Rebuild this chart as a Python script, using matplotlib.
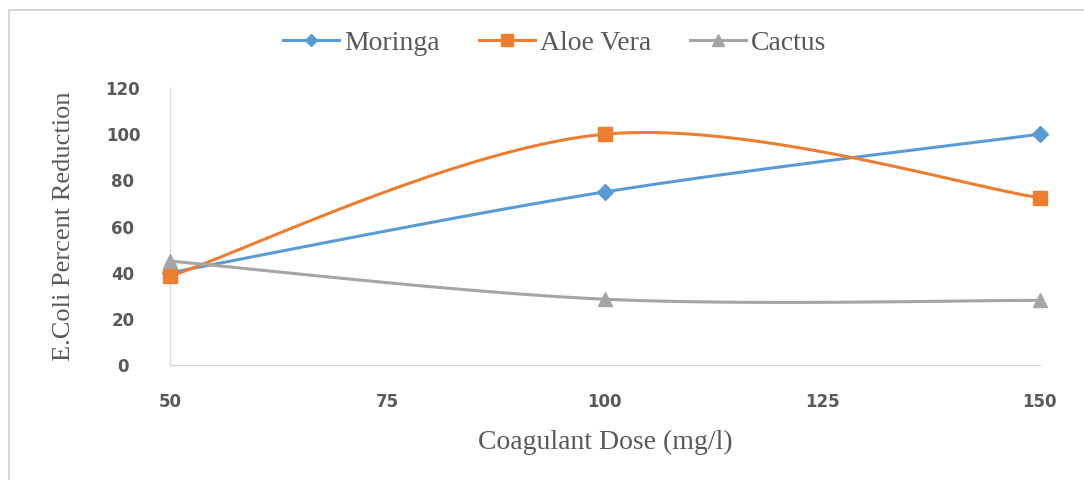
import numpy as np
import matplotlib
matplotlib.use("Agg")
import matplotlib.pyplot as plt
from matplotlib.lines import Line2D

# data
dose = [50, 100, 150]
moringa = [40, 75, 100]
aloe_vera = [38.5, 100, 72.5]
cactus = [45, 28.5, 28]
x_ticks = [50, 75, 100, 125, 150]
y_ticks = [0, 20, 40, 60, 80, 100, 120]

blue = "#5B9BD5"
orange = "#ED7D31"
grey = "#A5A5A5"
txt = "#595959"

def smooth(x, y, sx=8.7, sy=2.308, n=60):
    # excel style smoothed line: cubic bezier, catmull-rom control points (in pixel space)
    px = np.array(x, float) * sx
    py = np.array(y, float) * sy
    P = np.column_stack([px, py])
    out = []
    for i in range(len(P) - 1):
        p0 = P[i - 1] if i > 0 else P[i]
        p1 = P[i]
        p2 = P[i + 1]
        p3 = P[i + 2] if i + 2 < len(P) else P[i + 1]
        c1 = p1 + (p2 - p0) / 6.0
        c2 = p2 - (p3 - p1) / 6.0
        t = np.linspace(0, 1, n)[:, None]
        seg = (1-t)**3*p1 + 3*(1-t)**2*t*c1 + 3*(1-t)*t**2*c2 + t**3*p2
        out.append(seg if i == 0 else seg[1:])
    out = np.vstack(out)
    return out[:, 0] / sx, out[:, 1] / sy

fig = plt.figure(figsize=(10.84, 4.8), dpi=100)
ax = fig.add_axes([0.157, 0.2396, 0.802, 0.577])

series = [
    ("Moringa", moringa, blue, "D", 8),
    ("Aloe Vera", aloe_vera, orange, "s", 10),
    ("Cactus", cactus, grey, "^", 10),
]
handles = []
for name, vals, col, mk, ms in series:
    sx_, sy_ = smooth(dose, vals)
    ax.plot(sx_, sy_, color=col, lw=2.2, solid_capstyle="round", zorder=2, clip_on=False)
    ax.plot(dose, vals, ls="none", marker=mk, ms=ms, color=col, zorder=3, clip_on=False)
    handles.append(Line2D([0], [0], color=col, lw=2.2, marker=mk, ms=ms * 0.8))

ax.set_xlim(50, 150)
ax.set_ylim(0, 120)
ax.set_xticks(x_ticks)
ax.set_yticks(y_ticks)
for s in ["top", "right"]:
    ax.spines[s].set_visible(False)
for s in ["left", "bottom"]:
    ax.spines[s].set_color("#D9D9D9")
    ax.spines[s].set_linewidth(1)
ax.tick_params(length=0, colors=txt, labelsize=12)
ax.tick_params(axis="x", pad=20)
ax.tick_params(axis="y", pad=34)
for lab in ax.get_xticklabels() + ax.get_yticklabels():
    lab.set_family("DejaVu Sans")
    lab.set_fontweight("bold")
for lab in ax.get_yticklabels():
    lab.set_horizontalalignment("center")

ax.set_ylabel("E.Coli Percent Reduction", family="Liberation Serif",
              fontsize=19, color=txt, labelpad=22)
ax.set_xlabel("Coagulant Dose (mg/l)", family="Liberation Serif",
              fontsize=20, color=txt, labelpad=14)

fig.legend(handles, [s[0] for s in series], loc="center", bbox_to_anchor=(0.512, 0.91),
           ncol=3, frameon=False, handlelength=2.0, handletextpad=0.2, columnspacing=1.4,
           prop={"family": "Liberation Serif", "size": 20}, labelcolor=txt)

# light border of the chart area
fig.add_artist(Line2D([0.009, 1.0], [0.979, 0.979], transform=fig.transFigure, color="#D0D0D0", lw=1.2))
fig.add_artist(Line2D([0.008, 0.008], [0.0, 0.979], transform=fig.transFigure, color="#D0D0D0", lw=1.2))

fig.savefig("out.png", dpi=100)
